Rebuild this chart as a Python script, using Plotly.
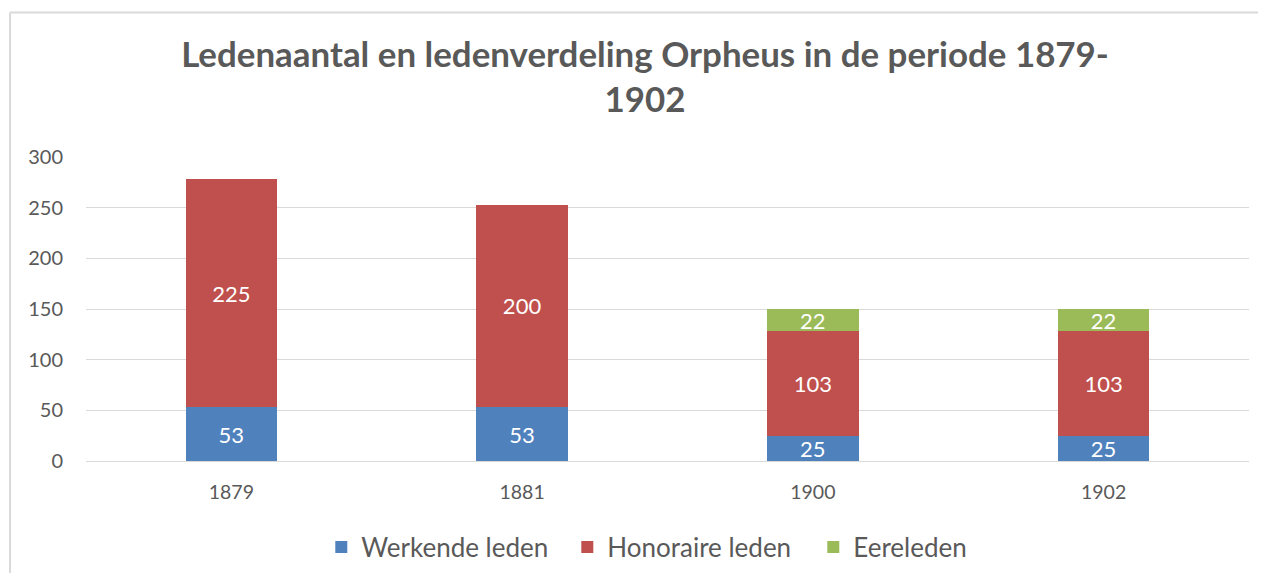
import plotly.graph_objects as go

years = ["1879", "1881", "1900", "1902"]
werkende = [53, 53, 25, 25]
honoraire = [225, 200, 103, 103]
eereleden = [None, None, 22, 22]

font_family = "Lato, 'Open Sans', sans-serif"

# page body has an 8px margin; the figure is placed at (8, 8)
W, H = 1258, 565
L, R, T, B = 77.5, 16.5, 149, 112
PW, PH = W - L - R, H - T - B

fig = go.Figure()
series = [
    ("Werkende leden", werkende, "#4f81bd"),
    ("Honoraire leden", honoraire, "#c0504d"),
    ("Eereleden", eereleden, "#9bbb59"),
]
for name, vals, col in series:
    fig.add_trace(go.Bar(
        x=years, y=vals, name=name,
        marker=dict(color=col, line=dict(width=0)),
        text=[str(v) if v is not None else "" for v in vals],
        textposition="inside", insidetextanchor="middle", textangle=0,
        textfont=dict(color="white", size=22, family=font_family),
        constraintext="none",
    ))

bx0 = (1.5 - L) / PW
by1 = (453 - 4.5) / PH

fig.update_layout(
    barmode="stack",
    bargap=0.686,
    width=W, height=H,
    margin=dict(l=L, r=R, t=T, b=B, pad=0, autoexpand=False),
    paper_bgcolor="white", plot_bgcolor="white",
    title=dict(
        text="<b>Ledenaantal en ledenverdeling Orpheus in de periode 1879-<br>1902</b>",
        x=(645 - 8) / W, xanchor="center", y=1 - 59 / H, yanchor="middle",
        font=dict(size=34.9, color="#595959", family=font_family),
    ),
    font=dict(family=font_family, color="#595959"),
    legend=dict(
        orientation="h", x=(313 - L) / PW, xanchor="left", y=(453 - 539) / PH, yanchor="middle",
        font=dict(size=26, color="#595959"), traceorder="normal",
        entrywidth=201, entrywidthmode="pixels",
    ),
    yaxis=dict(
        range=[0, 300], dtick=50, showgrid=True, gridcolor="#d9d9d9", gridwidth=1,
        zeroline=False, tickfont=dict(size=20, color="#595959"),
        ticks="", showline=False, ticklabelstandoff=22,
    ),
    xaxis=dict(
        showline=True, linecolor="#d9d9d9", linewidth=1,
        tickfont=dict(size=19.5, color="#595959"), ticks="", ticklabelstandoff=14,
    ),
    shapes=[
        dict(type="line", xref="paper", yref="paper",
             x0=bx0, x1=(1300 - L) / PW, y0=by1, y1=by1,
             line=dict(color="#d9d9d9", width=2), layer="below"),
        dict(type="line", xref="paper", yref="paper",
             x0=bx0, x1=bx0, y0=by1, y1=(453 - 650) / PH,
             line=dict(color="#d9d9d9", width=2), layer="below"),
    ],
    showlegend=True,
)

fig.write_html("out.html", config={"displayModeBar": False})
